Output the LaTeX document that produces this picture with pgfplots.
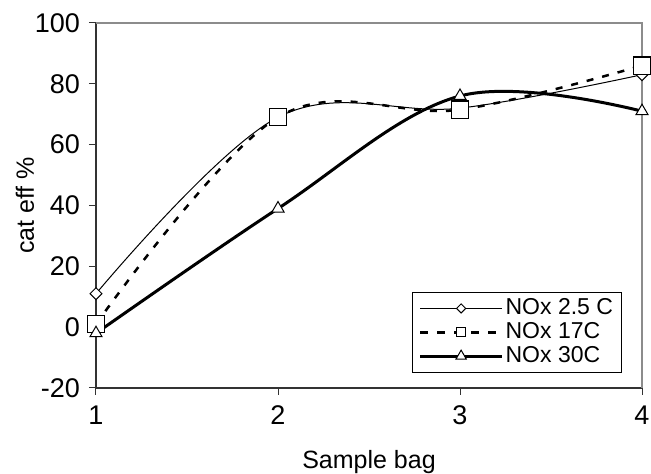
\documentclass[border=0pt]{standalone}
\usepackage{pgfplots}
\pgfplotsset{compat=1.18}
\usepackage{fontspec}
\setmainfont{Liberation Sans}
\begin{document}
\begin{tikzpicture}
\begin{axis}[
  name=ax,
  scale only axis,
  width=273pt, height=182.5pt,
  xmin=1, xmax=4, ymin=-20, ymax=100,
  xtick={1,2,3,4}, ytick={-20,0,20,40,60,80,100},
  axis lines*=left,
  axis line style={draw=black!80, line width=0.6pt},
  tick align=outside, major tick length=3.5pt,
  tick style={draw=black!80, line width=0.5pt},
  every tick label/.style={font=\fontsize{13.5}{15}\selectfont},
  /pgf/number format/assume math mode=true,
  xticklabel style={yshift=-2pt},
  yticklabel style={xshift=-1pt},
  xlabel={Sample bag}, ylabel={cat eff \%},
  label style={font=\fontsize{12.5}{14}\selectfont},
  xlabel style={at={(axis description cs:0.5,0)}, anchor=center, yshift=-37pt},
  ylabel style={at={(axis description cs:-0.13,0.5)}, anchor=center},
  clip=false,
  legend style={at={(rel axis cs:0.579,0.263)}, anchor=north west,
    draw=black, line width=0.5pt, font=\fontsize{11.5}{13}\selectfont,
    inner xsep=3pt, inner ysep=2pt, row sep=0pt, legend cell align=left,
    nodes={inner xsep=1pt, inner ysep=1.2pt}},
  legend image code/.code={\draw[mark repeat=2,mark phase=2,#1] plot coordinates {(0pt,0pt) (20.5pt,0pt) (41pt,0pt)};},
]
\draw[black!45, line width=0.6pt] (rel axis cs:0,1) -- (rel axis cs:1,1) -- (rel axis cs:1,0);

\addlegendimage{black, line width=0.5pt, mark=square*, mark options={rotate=45, fill=white, solid, line width=0.5pt}, mark size=1.6pt}
\addlegendentry{NOx 2.5 C}
\addlegendimage{black, line width=1.25pt, dash pattern=on 4pt off 4.5pt, mark=square*, mark options={fill=white, solid, line width=0.5pt}, mark size=2.3pt}
\addlegendentry{NOx 17C}
\addlegendimage{black, line width=1.5pt, mark=triangle*, mark options={fill=white, solid, line width=0.5pt}, mark size=3pt}
\addlegendentry{NOx 30C}

\addplot[forget plot, black, line width=0.5pt, smooth, tension=0.6, mark=square*, mark options={rotate=45, fill=white, line width=0.5pt}, mark size=2.1pt]
  coordinates {(1,11) (2,69) (3,72) (4,83)};
\addplot[forget plot, black, line width=1.25pt, dash pattern=on 3.5pt off 4.5pt, smooth, tension=0.6, mark=square*, mark options={fill=white, solid, line width=0.6pt}, mark size=4.3pt]
  coordinates {(1,1) (2,69) (3,71.5) (4,86)};
\addplot[forget plot, black, line width=1.5pt, smooth, tension=0.6, mark=triangle*, mark options={fill=white, solid, line width=0.5pt}, mark size=3.5pt]
  coordinates {(1,-2) (2,39) (3,76) (4,71)};
\end{axis}
\pgfresetboundingbox
\path (ax.south west) ++(-48pt,-43pt) coordinate (bl);
\path (ax.north east) ++(4.5pt,11.5pt) coordinate (tr);
\path[use as bounding box] (bl) rectangle (tr);
\end{tikzpicture}
\end{document}
